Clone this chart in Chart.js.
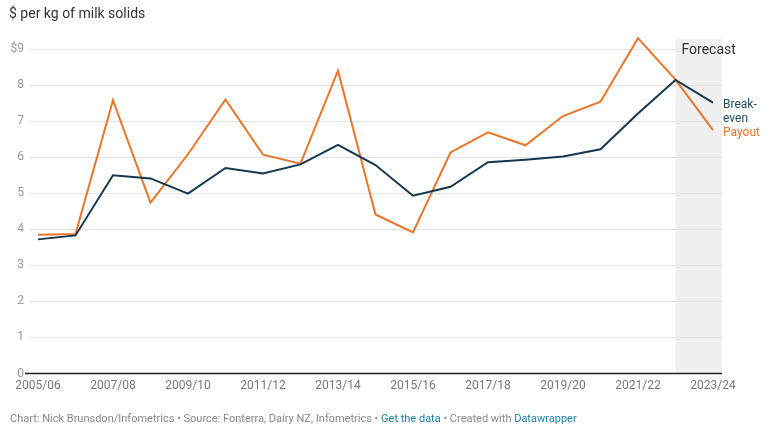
<!DOCTYPE html>
<html>
<head>
<meta charset="utf-8">
<script src="https://cdn.jsdelivr.net/npm/chart.js@4.4.1/dist/chart.umd.min.js"></script>
<style>
html, body { margin: 0; padding: 0; background: #fff; }
#wrap { position: relative; width: 777px; height: 429px; overflow: hidden; font-family: Roboto, sans-serif; }
#title { position: absolute; left: 9px; top: 5px; font-size: 14px; color: #333; }
#foot { position: absolute; left: 10px; top: 412px; font-size: 11px; color: #888; white-space: nowrap; }
#foot a { color: #1d81a2; text-decoration: none; }
canvas { position: absolute; left: 0; top: 0; }
</style>
</head>
<body>
<div id="wrap">
  <canvas id="myChart" width="777" height="429"></canvas>
  <div id="title">$ per kg of milk solids</div>
  <div id="foot">Chart: Nick Brunsdon/Infometrics • Source: Fonterra, Dairy NZ, Infometrics • <a>Get the data</a> • Created with <a>Datawrapper</a></div>
</div>
<script>
// 年度（横軸）
const seasons = ['2005/06','2006/07','2007/08','2008/09','2009/10','2010/11','2011/12','2012/13','2013/14','2014/15',
  '2015/16','2016/17','2017/18','2018/19','2019/20','2020/21','2021/22','2022/23','2023/24'];

// 乳価（Payout）
const payout = [3.85, 3.87, 7.58, 4.74, 6.08, 7.60, 6.07, 5.82, 8.40, 4.41,
  3.91, 6.13, 6.69, 6.33, 7.14, 7.54, 9.30, 8.15, 6.75];

// 損益分岐点（Break-even）
const breakeven = [3.72, 3.83, 5.50, 5.41, 4.99, 5.70, 5.55, 5.80, 6.34, 5.78,
  4.93, 5.18, 5.86, 5.93, 6.02, 6.22, 7.21, 8.14, 7.51];

// 縦軸の目盛
const yTicks = [0, 1, 2, 3, 4, 5, 6, 7, 8, 9];

// 予測の始まり
const forecastFrom = 17;

const blue = '#15374f';
const orange = '#e8762a';

const toXY = (arr) => arr.map((v, i) => ({ x: i, y: v }));

// 予測ゾーンと軸線、ラベル
const extras = {
  id: 'extras',
  beforeDraw(chart) {
    const ctx = chart.ctx;
    const x = chart.scales.x;
    const area = chart.chartArea;
    const left = x.getPixelForValue(forecastFrom);
    ctx.save();
    ctx.fillStyle = '#f0f0f0';
    ctx.fillRect(left, area.top - 10, area.right - left, area.bottom - area.top + 10);
    ctx.restore();
  },
  afterDatasetsDraw(chart) {
    const ctx = chart.ctx;
    const x = chart.scales.x;
    const y = chart.scales.y;
    const area = chart.chartArea;
    ctx.save();
    // 0の線
    ctx.strokeStyle = '#222';
    ctx.lineWidth = 1.5;
    ctx.beginPath();
    ctx.moveTo(25, y.getPixelForValue(0));
    ctx.lineTo(area.right, y.getPixelForValue(0));
    ctx.stroke();

    ctx.textBaseline = 'middle';
    ctx.font = '14px Roboto';
    ctx.fillStyle = '#333';
    ctx.fillText('Forecast', x.getPixelForValue(forecastFrom) + 6, y.getPixelForValue(9) + 1);

    const lx = area.right + 1;
    ctx.font = '12px Roboto';
    ctx.fillStyle = '#1f4a6a';
    ctx.fillText('Break-', lx, 105);
    ctx.fillText('even', lx, 119);
    ctx.fillStyle = orange;
    ctx.fillText('Payout', lx, 133);
    ctx.restore();
  }
};

new Chart(document.getElementById('myChart'), {
  type: 'line',
  data: {
    datasets: [
      { label: 'Break-even', data: toXY(breakeven), borderColor: blue, borderWidth: 2, pointRadius: 0, tension: 0, clip: false, order: 1 },
      { label: 'Payout', data: toXY(payout), borderColor: orange, borderWidth: 2, pointRadius: 0, tension: 0, clip: false, order: 2 }
    ]
  },
  options: {
    responsive: false,
    animation: false,
    layout: { padding: { top: 49, right: 55, left: 0, bottom: 0 } },
    plugins: { legend: { display: false }, tooltip: { enabled: false } },
    scales: {
      x: {
        type: 'linear',
        min: -0.213,
        max: 18.24,
        grid: { display: false, drawTicks: false },
        border: { display: false },
        afterBuildTicks: (scale) => {
          scale.ticks = seasons.map((s, i) => i).filter(i => i % 2 === 0).map(v => ({ value: v }));
        },
        afterFit: (scale) => { scale.height = 55.5; },
        ticks: {
          padding: 5,
          color: '#777',
          font: { family: 'Roboto', size: 12 },
          maxRotation: 0,
          autoSkip: false,
          callback: (v) => seasons[v]
        }
      },
      y: {
        min: 0,
        max: 9,
        afterBuildTicks: (scale) => { scale.ticks = yTicks.map(v => ({ value: v })); },
        afterFit: (scale) => { scale.width = 30; },
        grid: { color: '#e3e3e3', drawTicks: false },
        border: { display: false },
        ticks: {
          padding: 6,
          color: '#999',
          font: { family: 'Roboto', size: 12 },
          callback: (v) => v === 9 ? '$9' : v
        }
      }
    }
  },
  plugins: [extras]
});
</script>
</body>
</html>
